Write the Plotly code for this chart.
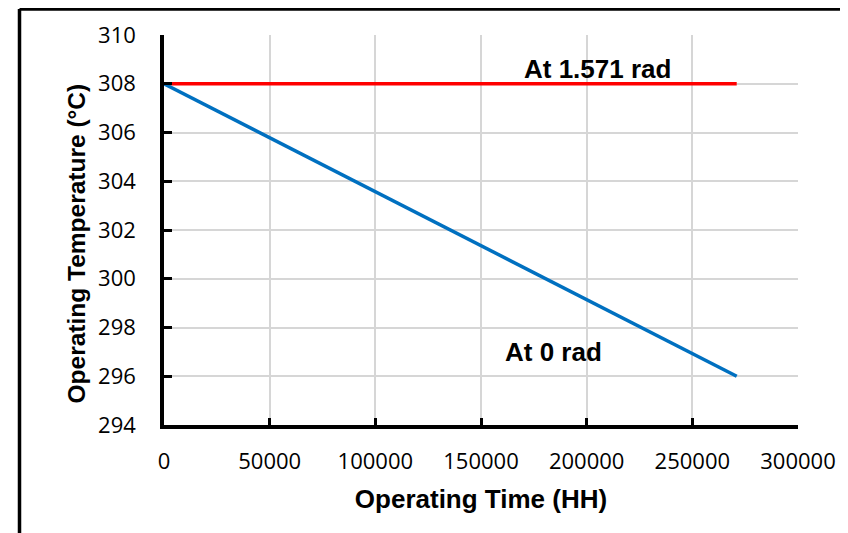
import plotly.graph_objects as go

time_0rad = [0, 271000]
temp_0rad = [308, 296]
time_1571 = [0, 271000]
temp_1571 = [308, 308]
x_ticks = [0, 50000, 100000, 150000, 200000, 250000, 300000]
x_ticktext = ["0", "50000", "100000", "150000", "200000", "250000", "300000"]
y_ticks = [294, 296, 298, 300, 302, 304, 306, 308, 310]

# page has an 8px body margin; figure is offset by it
W, H = 840, 525
L, R, T, B = 156, 50, 27, 108
pw, ph = W - L - R, H - T - B

fig = go.Figure()
fig.add_trace(go.Scatter(x=time_1571, y=temp_1571, mode="lines",
                         line=dict(color="#ff0000", width=3.5), name="At 1.571 rad"))
fig.add_trace(go.Scatter(x=time_0rad, y=temp_0rad, mode="lines",
                         line=dict(color="#0070c0", width=3.5), name="At 0 rad"))

tickfont = dict(family="Open Sans, Liberation Sans, sans-serif", size=22, color="black")
titlefont = dict(family="Liberation Sans, Arial, sans-serif", size=26, color="black")
ytitlefont = dict(family="Liberation Sans, Arial, sans-serif", size=24.5, color="black")

fig.update_layout(
    width=W, height=H, margin=dict(l=L, r=R, t=T, b=B),
    paper_bgcolor="white", plot_bgcolor="white", showlegend=False,
    xaxis=dict(range=[0, 300000], tickvals=x_ticks, ticktext=x_ticktext,
               showgrid=True, gridcolor="#d6d6d6", gridwidth=1.5,
               showline=True, linecolor="black", linewidth=3.5,
               ticks="inside", ticklen=7, tickwidth=3, tickcolor="black",
               tickfont=tickfont, zeroline=False, ticklabelstandoff=14,
               title=dict(text="<b>Operating Time (HH)</b>", font=titlefont, standoff=17)),
    yaxis=dict(range=[294, 310], tickvals=y_ticks,
               showgrid=True, gridcolor="#d6d6d6", gridwidth=1.5,
               showline=True, linecolor="black", linewidth=3.5,
               ticks="inside", ticklen=8, tickwidth=3, tickcolor="black",
               tickfont=tickfont, zeroline=False, ticklabelstandoff=20),
    annotations=[
        dict(x=(597.5 - 164) / pw * 300000, y=308.6, text="<b>At 1.571 rad</b>",
             showarrow=False, font=titlefont, xref="x", yref="y"),
        dict(x=(553.5 - 164) / pw * 300000, y=297.0, text="<b>At 0 rad</b>",
             showarrow=False, font=titlefont, xref="x", yref="y"),
        dict(x=(68 - L) / pw, y=(H - B - 235.5) / ph, xref="paper", yref="paper",
             text="<b>Operating Temperature (°C)</b>", textangle=-90, showarrow=False,
             font=ytitlefont, xanchor="center", yanchor="middle"),
    ],
)

# outer frame (left and top lines)
fx = (11.5 - L) / pw
fy = (H - B - 1) / ph
fig.add_shape(type="line", xref="paper", yref="paper", x0=fx, x1=(W - L + 10) / pw, y0=fy, y1=fy,
              line=dict(color="black", width=3.5))
fig.add_shape(type="line", xref="paper", yref="paper", x0=fx, x1=fx, y0=fy, y1=-(B + 10) / ph,
              line=dict(color="black", width=3.5))

fig.write_html("out.html")
